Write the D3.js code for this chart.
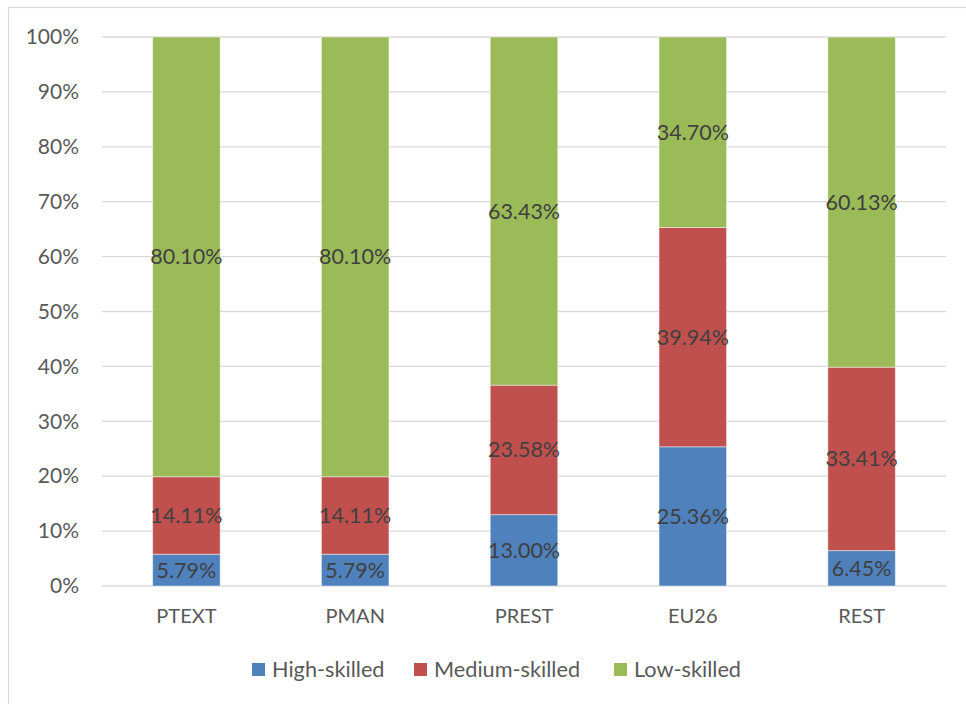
<!DOCTYPE html>
<html>
<head>
<meta charset="utf-8">
<script src="https://cdn.jsdelivr.net/npm/d3@7"></script>
<style>
  html, body { margin: 0; padding: 0; background: #fff; }
  svg { display: block; }
  text { font-family: Lato, "Open Sans", "Liberation Sans", sans-serif; }
</style>
</head>
<body>
<svg id="chart" width="966" height="704"></svg>
<script>
// Skill composition by sector / region (shares, %)
const categories = ["PTEXT", "PMAN", "PREST", "EU26", "REST"];
const highSkilled = [5.79, 5.79, 13.00, 25.36, 6.45];
const mediumSkilled = [14.11, 14.11, 23.58, 39.94, 33.41];
const lowSkilled = [80.10, 80.10, 63.43, 34.70, 60.13];
const seriesNames = ["High-skilled", "Medium-skilled", "Low-skilled"];
const seriesColors = ["#4F81BD", "#C0504D", "#9BBB59"];
const yTicks = [0, 10, 20, 30, 40, 50, 60, 70, 80, 90, 100];

const rows = categories.map((c, i) => ({
  cat: c,
  "High-skilled": highSkilled[i],
  "Medium-skilled": mediumSkilled[i],
  "Low-skilled": lowSkilled[i]
}));

const svg = d3.select("#chart");
const plot = { left: 102, right: 946, top: 37, bottom: 586 };

// Outer chart frame
svg.append("rect")
  .attr("x", 8.5).attr("y", 7.5)
  .attr("width", 1000).attr("height", 1000)
  .attr("fill", "none").attr("stroke", "#D9D9D9").attr("stroke-width", 1.2);

const x = d3.scaleBand().domain(categories)
  .range([plot.left, plot.right]).paddingInner(0.6).paddingOuter(0.3);
const y = d3.scaleLinear().domain([0, 100]).range([plot.bottom, plot.top]);

// Gridlines
svg.append("g").selectAll("line").data(yTicks).join("line")
  .attr("x1", plot.left).attr("x2", plot.right)
  .attr("y1", d => y(d)).attr("y2", d => y(d))
  .attr("stroke", "#D9D9D9").attr("stroke-width", 1.3);

// Y axis labels
const yAxis = d3.axisLeft(y).tickValues(yTicks).tickFormat(d => d + "%").tickSize(0).tickPadding(0);
const yg = svg.append("g").attr("transform", `translate(${79},0)`).call(yAxis);
yg.select(".domain").remove();
yg.selectAll("text")
  .attr("fill", "#595959").style("font-size", "21px")
  .style("font-family", "Lato, 'Open Sans', sans-serif");

// X axis labels
const xAxis = d3.axisBottom(x).tickSize(0).tickPadding(0);
const xg = svg.append("g").attr("transform", `translate(0,${609})`).call(xAxis);
xg.select(".domain").remove();
xg.selectAll("text")
  .attr("fill", "#595959").style("font-size", "20px")
  .style("font-family", "Lato, 'Open Sans', sans-serif");

// Stacked bars
const stack = d3.stack().keys(seriesNames);
const layers = stack(rows);

const groups = svg.append("g").selectAll("g").data(layers).join("g")
  .attr("fill", (d, i) => seriesColors[i]);

groups.selectAll("rect").data(d => d).join("rect")
  .attr("x", d => x(d.data.cat))
  .attr("width", x.bandwidth())
  .attr("y", d => y(Math.min(d[1], 100)))
  .attr("height", d => y(d[0]) - y(Math.min(d[1], 100)))
  .attr("stroke", "#ffffff").attr("stroke-opacity", 0.45).attr("stroke-width", 1);

// Data labels
const labels = svg.append("g");
layers.forEach(layer => {
  layer.forEach(d => {
    const v = d.data[layer.key];
    labels.append("text")
      .attr("x", x(d.data.cat) + x.bandwidth() / 2)
      .attr("y", y((d[0] + Math.min(d[1], 100)) / 2))
      .attr("dy", "0.35em")
      .attr("text-anchor", "middle")
      .attr("fill", "#404040")
      .style("font-size", "21.5px")
      .text(v.toFixed(2) + "%");
  });
});

// Legend
const legendItems = [
  { name: seriesNames[0], color: seriesColors[0], x: 252 },
  { name: seriesNames[1], color: seriesColors[1], x: 414 },
  { name: seriesNames[2], color: seriesColors[2], x: 614 }
];
const lg = svg.append("g");
legendItems.forEach(it => {
  lg.append("rect").attr("x", it.x).attr("y", 663).attr("width", 13).attr("height", 13).attr("fill", it.color);
  lg.append("text").attr("x", it.x + 20).attr("y", 677)
    .attr("fill", "#595959").style("font-size", "21.7px").text(it.name);
});
</script>
</body>
</html>
